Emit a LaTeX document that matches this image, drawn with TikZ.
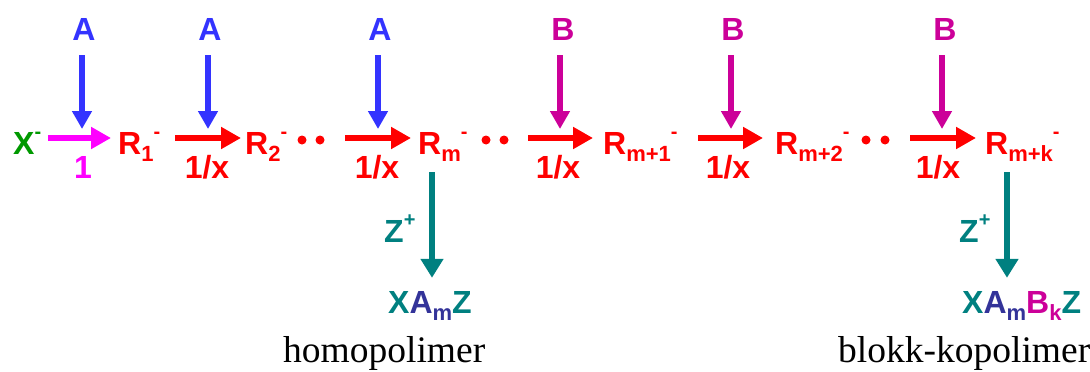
\documentclass[tikz,border=0pt]{standalone}
\usepackage{fontspec}
\setmainfont{Liberation Serif}
\setsansfont{Liberation Sans}
\usetikzlibrary{arrows.meta,positioning}
\definecolor{chainred}{RGB}{255,0,0}
\definecolor{monoblue}{RGB}{51,51,255}
\definecolor{comagenta}{RGB}{204,0,153}
\definecolor{initpink}{RGB}{255,0,255}
\definecolor{initgreen}{RGB}{0,153,0}
\definecolor{termteal}{RGB}{0,128,128}
\definecolor{blockindigo}{RGB}{51,51,153}
\newcommand{\lowix}[1]{\raisebox{-0.22em}{\fontsize{22}{22}\selectfont #1}}
\newcommand{\chg}[1]{\raisebox{0.5em}{\fontsize{20}{20}\selectfont #1}}
\tikzset{
  chem/.style={font=\sffamily\bfseries\fontsize{32}{34}\selectfont,
    inner sep=0pt,anchor=base west},
  mono/.style={font=\sffamily\bfseries\fontsize{32}{34}\selectfont,
    inner sep=0pt,anchor=base},
  ratelab/.style={font=\sffamily\bfseries\fontsize{32}{34}\selectfont,
    inner sep=0pt,anchor=base},
  polylab/.style={font=\rmfamily\fontsize{37.5}{40}\selectfont,
    inner sep=0pt,anchor=base west},
  chaindot/.style={circle,fill=chainred,inner sep=0pt,minimum size=9pt},
  propflow/.style={-{Triangle[length=20pt,width=21pt]},line width=6pt,draw=chainred},
  initflow/.style={-{Triangle[length=20pt,width=21pt]},line width=6pt,draw=initpink},
  addflow/.style={-{Triangle[length=18pt,width=19pt]},line width=6pt},
  termflow/.style={-{Triangle[length=19pt,width=22pt]},line width=6pt,draw=termteal}
}

\begin{document}
\begin{tikzpicture}[x=1pt,y=-1pt]
  \useasboundingbox (0,0) rectangle (1090,372);

  % growing chain
  \node[chem,text=initgreen] (xm) at (13,154) {X\chg{-}};
  \node[chem,text=chainred] (r1) at (118,154) {R\lowix{1}\chg{-}};
  \node[chem,text=chainred] (r2) at (245,154) {R\lowix{2}\chg{-}};
  \node[chem,text=chainred] (rm) at (418,154) {R\lowix{m}\chg{-}};
  \node[chem,text=chainred] (rm1) at (603,154) {R\lowix{m+1}\chg{-}};
  \node[chem,text=chainred] (rm2) at (775,154) {R\lowix{m+2}\chg{-}};
  \node[chem,text=chainred] (rmk) at (985,154) {R\lowix{m+k}\chg{-}};

  \node[chaindot] (d2a) at (302,140) {};
  \node[chaindot] (d2b) at (320,140) {};
  \node[chaindot] (dma) at (486,140) {};
  \node[chaindot] (dmb) at (504,140) {};
  \node[chaindot] (d6a) at (866,140) {};
  \node[chaindot] (d6b) at (885,140) {};

  % arrow ends
  \coordinate (s1) at (48,138);  \coordinate (e1) at (111,138);
  \coordinate (s2) at (175,138); \coordinate (e2) at (241,138);
  \coordinate (s3) at (345,138); \coordinate (e3) at (411,138);
  \coordinate (s4) at (528,138); \coordinate (e4) at (593,138);
  \coordinate (s5) at (698,138); \coordinate (e5) at (763,138);
  \coordinate (s6) at (910,138); \coordinate (e6) at (976,138);

  \draw[initflow] (s1) -- (e1);
  \draw[propflow] (s2) -- (e2);
  \draw[propflow] (s3) -- (e3);
  \draw[propflow] (s4) -- (e4);
  \draw[propflow] (s5) -- (e5);
  \draw[propflow] (s6) -- (e6);

  \node[ratelab,text=initpink] (k1) at (83,178) {1};
  \node[ratelab,text=chainred] (k2) at (207,178) {1/x};
  \node[ratelab,text=chainred] (k3) at (377,178) {1/x};
  \node[ratelab,text=chainred] (k4) at (558,178) {1/x};
  \node[ratelab,text=chainred] (k5) at (728,178) {1/x};
  \node[ratelab,text=chainred] (k6) at (938,178) {1/x};

  % monomers
  \node[mono,text=monoblue] (a1) at (84,40) {A};
  \node[mono,text=monoblue] (a2) at (210,40) {A};
  \node[mono,text=monoblue] (a3) at (380,40) {A};
  \node[mono,text=comagenta] (b1) at (563,40) {B};
  \node[mono,text=comagenta] (b2) at (733,40) {B};
  \node[mono,text=comagenta] (b3) at (945,40) {B};

  \coordinate (j1) at (82,129);  \coordinate (j2) at (208,129);
  \coordinate (j3) at (378,129); \coordinate (j4) at (560,129);
  \coordinate (j5) at (731,129); \coordinate (j6) at (942,129);

  \draw[addflow,draw=monoblue] (a1.south -| j1) ++(0,15) -- (j1);
  \draw[addflow,draw=monoblue] (a2.south -| j2) ++(0,15) -- (j2);
  \draw[addflow,draw=monoblue] (a3.south -| j3) ++(0,15) -- (j3);
  \draw[addflow,draw=comagenta] (b1.south -| j4) ++(0,15) -- (j4);
  \draw[addflow,draw=comagenta] (b2.south -| j5) ++(0,15) -- (j5);
  \draw[addflow,draw=comagenta] (b3.south -| j6) ++(0,15) -- (j6);

  % termination
  \node[chem,text=termteal] (zp1) at (384,242) {Z\chg{+}};
  \node[chem,text=termteal] (zp2) at (959,242) {Z\chg{+}};
  \node[chem,text=termteal] (hp) at (388,313)
    {X\textcolor{blockindigo}{A\lowix{m}}Z};
  \node[chem,text=termteal] (bp) at (962,313)
    {X\textcolor{blockindigo}{A\lowix{m}}\textcolor{comagenta}{B\lowix{k}}Z};

  \coordinate (tm) at (432,172);
  \coordinate (tk) at (1007,172);
  \draw[termflow,shorten >=13pt] (tm) -- (hp.north -| tm);
  \draw[termflow,shorten >=13pt] (tk) -- (bp.north -| tk);

  \node[polylab] (hlab) at (283,362) {homopolimer};
  \node[polylab] (blab) at (838,362) {blokk-kopolimer};
\end{tikzpicture}
\end{document}
